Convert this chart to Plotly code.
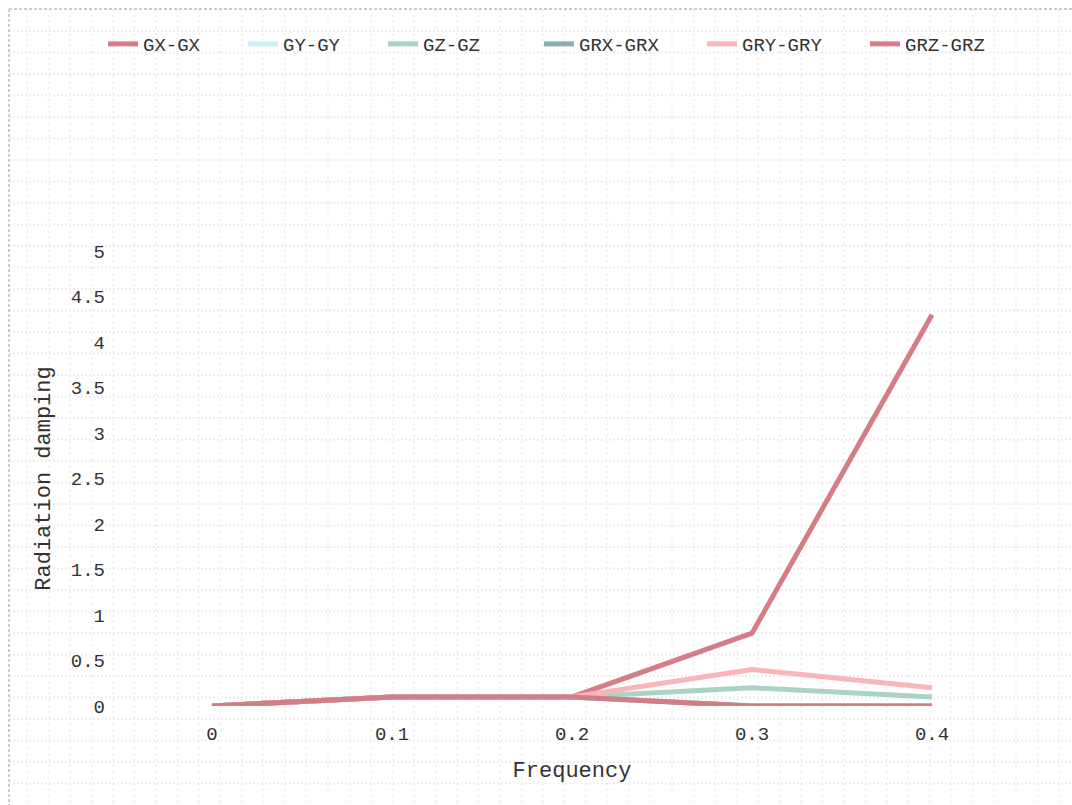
import plotly.graph_objects as go

# Frequencies (category axis) and radiation damping per mode
frequency = ["0", "0.1", "0.2", "0.3", "0.4"]
gx_gx = [0, 0.1, 0.1, 0.8, 4.3]
gy_gy = [0, 0.1, 0.1, 0, 0]
gz_gz = [0, 0.1, 0.1, 0.2, 0.1]
grx_grx = [0, 0.1, 0.1, 0, 0]
gry_gry = [0, 0.1, 0.1, 0.4, 0.2]
grz_grz = [0, 0.1, 0.1, 0, 0]

series_names = ["GX-GX", "GY-GY", "GZ-GZ", "GRX-GRX", "GRY-GRY", "GRZ-GRZ"]
series_values = [gx_gx, gy_gy, gz_gz, grx_grx, gry_gry, grz_grz]
series_colors = ["#D57D87", "#C9F0F4", "#A9D4C5", "#86B3AF", "#FAB5B8", "#D57D87"]
# left edge (px) of each legend entry along the top row
legend_left = [103, 243, 383, 539, 702, 865]

y_ticks = [0, 0.5, 1, 1.5, 2, 2.5, 3, 3.5, 4, 4.5, 5]

W, H = 1072, 805
ML, MR, MT, MB = 122, 50, 251, 99
PW, PH = W - ML - MR, H - MT - MB
FONT = "Liberation Mono"
TEXT = "#333333"


def px_x(p):
    return (p - ML) / PW


def px_y(p):
    return 1 - (p - MT) / PH


fig = go.Figure()
legends = {}
for i, (name, vals, col) in enumerate(zip(series_names, series_values, series_colors)):
    key = "legend" if i == 0 else f"legend{i + 1}"
    fig.add_trace(go.Scatter(
        x=frequency, y=vals, name=name, mode="lines",
        line=dict(color=col, width=5), legend=key,
    ))
    legends[key] = dict(orientation="h", x=px_x(legend_left[i]), xanchor="left",
                        y=px_y(44), yanchor="middle",
                        font=dict(family=FONT, size=19, color=TEXT),
                        bgcolor="rgba(0,0,0,0)", itemwidth=30)

# dotted page grid and dashed frame
shapes = []
step = 21.5
y = 31.0
while y < H:
    shapes.append(dict(type="line", xref="paper", yref="paper",
                       x0=px_x(9), x1=px_x(W), y0=px_y(y), y1=px_y(y),
                       line=dict(color="#eeeeee", width=2, dash="2px,2px"),
                       layer="below"))
    y += step
x = 27.0
while x < W:
    shapes.append(dict(type="line", xref="paper", yref="paper",
                       x0=px_x(x), x1=px_x(x), y0=px_y(9), y1=px_y(H),
                       line=dict(color="#f1f1f1", width=2, dash="2px,4px"),
                       layer="below"))
    x += step
shapes.append(dict(type="line", xref="paper", yref="paper",
                   x0=px_x(9), x1=px_x(W), y0=px_y(9), y1=px_y(9),
                   line=dict(color="#cccccc", width=2, dash="3px,2px"),
                   layer="below"))
shapes.append(dict(type="line", xref="paper", yref="paper",
                   x0=px_x(9), x1=px_x(9), y0=px_y(9), y1=px_y(H),
                   line=dict(color="#cccccc", width=2, dash="3px,2px"),
                   layer="below"))

fig.update_layout(
    width=W, height=H,
    margin=dict(l=ML, r=MR, t=MT, b=MB),
    paper_bgcolor="white", plot_bgcolor="rgba(0,0,0,0)",
    font=dict(family=FONT, size=19, color=TEXT),
    shapes=shapes,
    showlegend=True,
    xaxis=dict(type="category", range=[-0.5, 4.5], showgrid=False,
               zeroline=False, showline=False, ticks="",
               ticklabelstandoff=14,
               tickfont=dict(family=FONT, size=19, color=TEXT),
               title=dict(text="Frequency", standoff=16,
                          font=dict(family=FONT, size=22, color=TEXT))),
    yaxis=dict(range=[0, 5], tickvals=y_ticks,
               ticktext=[f"{v:g}" for v in y_ticks],
               showgrid=False, zeroline=False, showline=False, ticks="",
               ticklabelstandoff=16,
               tickfont=dict(family=FONT, size=19, color=TEXT),
               title=dict(text="Radiation damping", standoff=14,
                          font=dict(family=FONT, size=22, color=TEXT))),
)
fig.update_layout(**legends)

fig.write_html("out.html")
